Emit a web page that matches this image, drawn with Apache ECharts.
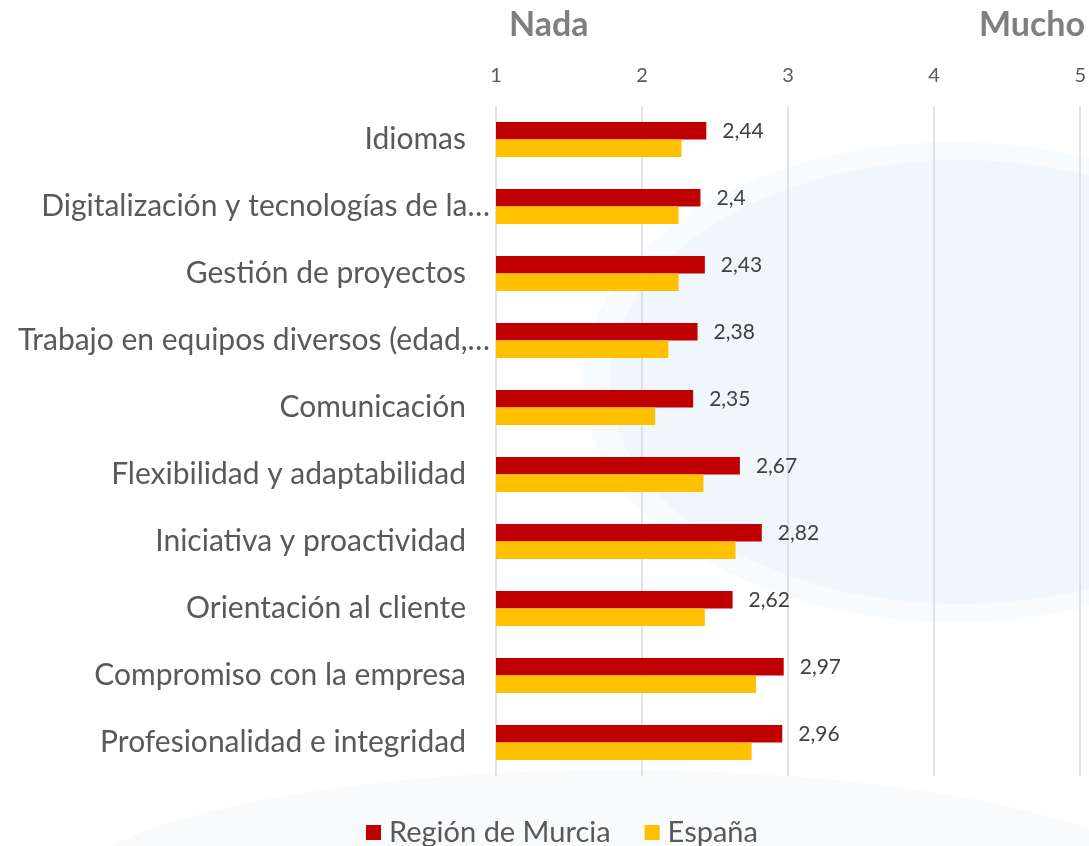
<!DOCTYPE html>
<html lang="es">
<head>
    <meta charset="utf-8">
    <script src="https://cdn.jsdelivr.net/npm/echarts@6/dist/echarts.min.js"></script>
    <style>
        html, body {
            margin: 0px;
            padding: 0px;
            width: 100%;
            height: 100%;
            background: #fff;
        }
        #chart {
            width: 1089px;
            height: 846px;
        }
    </style>
</head>
<body>
<div id="chart"></div>
<script type="text/javascript">
    // categorias (de arriba a abajo)
    var categories = [
        'Idiomas',
        'Digitalización y tecnologías de la…',
        'Gestión de proyectos',
        'Trabajo en equipos diversos (edad,…',
        'Comunicación',
        'Flexibilidad y adaptabilidad',
        'Iniciativa y proactividad',
        'Orientación al cliente',
        'Compromiso con la empresa',
        'Profesionalidad e integridad'
    ];
    var murciaValues = [2.44, 2.4, 2.43, 2.38, 2.35, 2.67, 2.82, 2.62, 2.97, 2.96];
    var espanaValues = [2.27, 2.25, 2.25, 2.18, 2.09, 2.42, 2.64, 2.43, 2.78, 2.75];
    var seriesNames = ['Región de Murcia', 'España'];
    var scaleTitles = ['Nada', 'Mucho'];

    var FONT = 'Lato, "Open Sans", sans-serif';
    var myChart = echarts.init(document.getElementById('chart'));

    var option = {
        backgroundColor: '#fff',
        animation: false,
        textStyle: {fontFamily: FONT},
        graphic: [
            // fondo azul muy suave
            {type: 'ellipse', silent: true, z: -10,
             shape: {cx: 955, cy: 382, rx: 372, ry: 240},
             style: {fill: '#f7fbfd'}},
            {type: 'ellipse', silent: true, z: -10,
             shape: {cx: 960, cy: 382, rx: 350, ry: 222},
             style: {fill: '#f0f7fc'}},
            {type: 'ellipse', silent: true, z: -10,
             shape: {cx: 620, cy: 900, rx: 560, ry: 130},
             style: {fill: '#f8fafc'}},
            {type: 'text', left: 509, top: 8,
             style: {text: scaleTitles[0], font: 'bold 34px ' + FONT, fill: '#7f7f7f'}},
            {type: 'text', right: 4, top: 8,
             style: {text: scaleTitles[1], font: 'bold 34px ' + FONT, fill: '#7f7f7f'}}
        ],
        grid: {
            left: 496,
            right: 5,
            top: 106,
            bottom: 70,
            containLabel: false
        },
        legend: {
            data: seriesNames,
            left: 361,
            top: 813,
            icon: 'rect',
            itemWidth: 15,
            itemHeight: 15,
            itemGap: 34,
            textStyle: {fontSize: 29, color: '#595959', fontFamily: FONT, padding: [0, 0, 0, 3]}
        },
        xAxis: {
            type: 'value',
            position: 'top',
            min: 1,
            max: 5,
            interval: 1,
            axisLine: {show: false},
            axisTick: {show: false},
            axisLabel: {fontSize: 20, color: '#595959', margin: 20, fontFamily: FONT},
            splitLine: {show: true, lineStyle: {color: '#d9d9d9', width: 1.5}}
        },
        yAxis: {
            type: 'category',
            inverse: true,
            data: categories,
            axisLine: {show: false},
            axisTick: {show: false},
            axisLabel: {
                margin: 6,
                formatter: function (v) {
                    return v.slice(-1) === '…' ? '{t|' + v + '}' : '{n|' + v + '}';
                },
                rich: {
                    n: {fontSize: 30, color: '#595959', fontFamily: FONT, padding: [0, 24, 0, 0]},
                    t: {fontSize: 30, color: '#595959', fontFamily: FONT}
                }
            }
        },
        series: [
            {
                name: seriesNames[0],
                type: 'bar',
                data: murciaValues,
                barWidth: 17.5,
                barGap: '0%',
                itemStyle: {color: '#c00000'},
                label: {
                    show: true,
                    position: 'right',
                    distance: 16,
                    fontSize: 21,
                    color: '#404040',
                    fontFamily: FONT,
                    formatter: function (p) {
                        return String(p.value).replace('.', ',');
                    }
                }
            },
            {
                name: seriesNames[1],
                type: 'bar',
                data: espanaValues,
                barWidth: 17.5,
                barGap: '0%',
                itemStyle: {color: '#ffc000'}
            }
        ]
    };

    myChart.setOption(option, true);
</script>
</body>
</html>
